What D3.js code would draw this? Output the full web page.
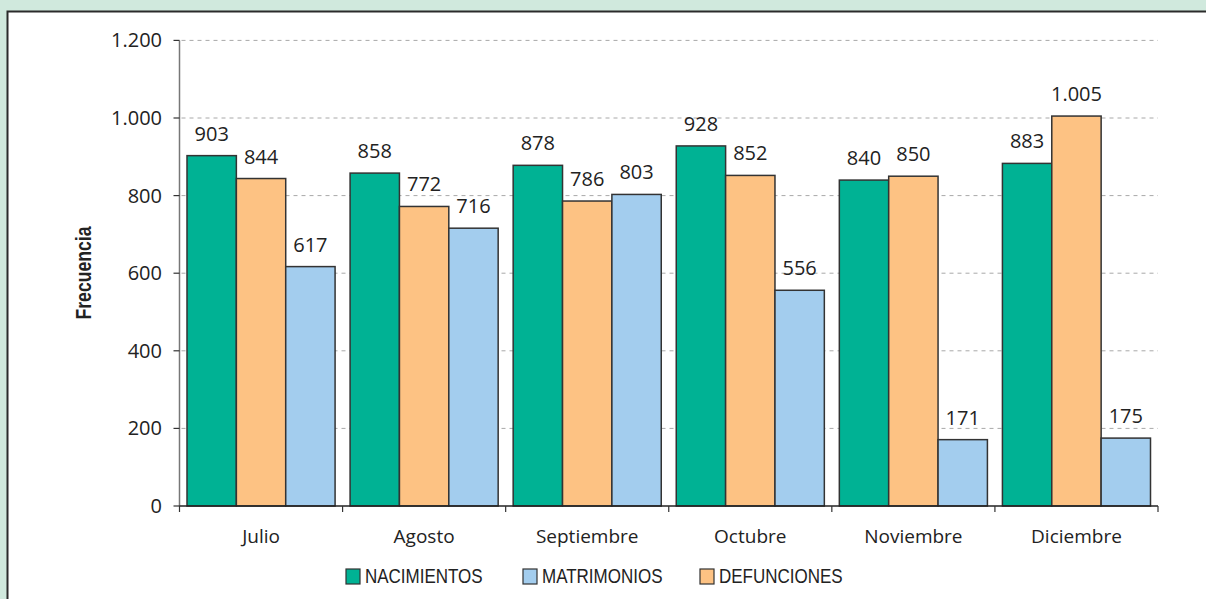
<!DOCTYPE html>
<html>
<head>
<meta charset="utf-8">
<script src="https://cdn.jsdelivr.net/npm/d3@7"></script>
<style>
    html, body { margin: 0; padding: 0; background: #d0e9dd; }
    svg { display: block; }
</style>
</head>
<body>
<div id="chart"></div>
<script>
// Datos del gráfico
const months = ["Julio", "Agosto", "Septiembre", "Octubre", "Noviembre", "Diciembre"];
const nacimientos = [903, 858, 878, 928, 840, 883];
const defunciones = [844, 772, 786, 852, 850, 1005];
const matrimonios = [617, 716, 803, 556, 171, 175];
const yTicks = [0, 200, 400, 600, 800, 1000, 1200];

// Orden de las barras dentro de cada mes
const series = [
    { name: "NACIMIENTOS", values: nacimientos, color: "#00b294" },
    { name: "DEFUNCIONES", values: defunciones, color: "#fdc283" },
    { name: "MATRIMONIOS", values: matrimonios, color: "#a3cdee" }
];
// Orden de la leyenda
const legendOrder = ["NACIMIENTOS", "MATRIMONIOS", "DEFUNCIONES"];

const width = 1206;
const height = 599;
const numFont = "'Open Sans', sans-serif";
const narrowFont = "'Liberation Sans', Arial, sans-serif"; // comprimida con scale()

const svg = d3.select("#chart")
    .append("svg")
    .attr("width", width)
    .attr("height", height);

// Marco blanco con borde oscuro
svg.append("rect")
    .attr("x", 7.5)
    .attr("y", 11.5)
    .attr("width", width)
    .attr("height", height)
    .attr("fill", "#fff")
    .attr("stroke", "#2b2b2b")
    .attr("stroke-width", 2);

const x0 = d3.scaleBand()
    .domain(months)
    .range([179.5, 1158]);

const x1 = d3.scaleBand()
    .domain(series.map(s => s.name))
    .range([7.5, x0.bandwidth() - 7.5]);

const y = d3.scaleLinear()
    .domain([0, 1200])
    .range([506, 40.4]);

// Líneas de cuadrícula
svg.append("g")
    .selectAll("line")
    .data(yTicks.filter(t => t > 0))
    .enter().append("line")
    .attr("x1", x0.range()[0] + 2)
    .attr("x2", x0.range()[1])
    .attr("y1", d => y(d))
    .attr("y2", d => y(d))
    .attr("stroke", "#a8a8a8")
    .attr("stroke-dasharray", "4,4");

// Barras
const groups = svg.append("g")
    .selectAll("g")
    .data(months)
    .enter().append("g")
    .attr("transform", d => `translate(${x0(d)},0)`);

groups.selectAll("rect")
    .data((m, i) => series.map(s => ({ name: s.name, value: s.values[i], color: s.color })))
    .enter().append("rect")
    .attr("x", d => x1(d.name))
    .attr("y", d => y(d.value))
    .attr("width", x1.bandwidth())
    .attr("height", d => y(0) - y(d.value))
    .attr("fill", d => d.color)
    .attr("stroke", "#333")
    .attr("stroke-width", 1.5);

// Etiquetas de valores
groups.selectAll("text")
    .data((m, i) => series.map(s => ({ name: s.name, value: s.values[i] })))
    .enter().append("text")
    .attr("x", d => x1(d.name) + x1.bandwidth() / 2)
    .attr("y", d => y(d.value) - 15)
    .attr("text-anchor", "middle")
    .attr("font-family", numFont)
    .attr("font-size", 20)
    .attr("fill", "#222")
    .text(d => d3.format(",")(d.value).replace(/,/g, "."));

// Eje Y
svg.append("line")
    .attr("x1", x0.range()[0])
    .attr("x2", x0.range()[0])
    .attr("y1", y(1200))
    .attr("y2", y(0))
    .attr("stroke", "#777")
    .attr("stroke-width", 1.5);

const yAxis = svg.append("g");
yAxis.selectAll("line")
    .data(yTicks)
    .enter().append("line")
    .attr("x1", x0.range()[0] - 6)
    .attr("x2", x0.range()[0])
    .attr("y1", d => y(d))
    .attr("y2", d => y(d))
    .attr("stroke", "#333")
    .attr("stroke-width", 1.2);

yAxis.selectAll("text")
    .data(yTicks)
    .enter().append("text")
    .attr("x", 162)
    .attr("y", d => y(d) + 7)
    .attr("text-anchor", "end")
    .attr("font-family", numFont)
    .attr("font-size", 20)
    .attr("fill", "#222")
    .text(d => d3.format(",")(d).replace(/,/g, "."));

svg.append("text")
    .attr("transform", "translate(91,273) rotate(-90) scale(0.82,1)")
    .attr("text-anchor", "middle")
    .attr("font-family", narrowFont)
    .attr("font-weight", "bold")
    .attr("font-size", 21.5)
    .attr("fill", "#222")
    .text("Frecuencia");

// Eje X
svg.append("line")
    .attr("x1", x0.range()[0])
    .attr("x2", x0.range()[1])
    .attr("y1", y(0))
    .attr("y2", y(0))
    .attr("stroke", "#222")
    .attr("stroke-width", 1.5);

const xTickPos = months.map(m => x0(m)).concat([x0.range()[1]]);
svg.append("g")
    .selectAll("line")
    .data(xTickPos)
    .enter().append("line")
    .attr("x1", d => d)
    .attr("x2", d => d)
    .attr("y1", y(0))
    .attr("y2", y(0) + 6)
    .attr("stroke", "#333")
    .attr("stroke-width", 1.2);

svg.append("g")
    .selectAll("text")
    .data(months)
    .enter().append("text")
    .attr("x", d => x0(d) + x0.bandwidth() / 2)
    .attr("y", 543)
    .attr("text-anchor", "middle")
    .attr("font-family", numFont)
    .attr("font-size", 19)
    .attr("fill", "#222")
    .text(d => d);

// Leyenda
const legend = svg.append("g")
    .attr("transform", "translate(346,569)");

const legendItems = legend.selectAll("g")
    .data(legendOrder.map(n => series.find(s => s.name === n)))
    .enter().append("g")
    .attr("transform", (d, i) => `translate(${i * 177},0)`);

legendItems.append("rect")
    .attr("width", 14)
    .attr("height", 15)
    .attr("fill", d => d.color)
    .attr("stroke", "#333")
    .attr("stroke-width", 1.2);

legendItems.append("text")
    .attr("transform", "translate(19,14) scale(0.85,1)")
    .attr("font-family", narrowFont)
    .attr("font-size", 20)
    .attr("fill", "#222")
    .text(d => d.name);
</script>
</body>
</html>
